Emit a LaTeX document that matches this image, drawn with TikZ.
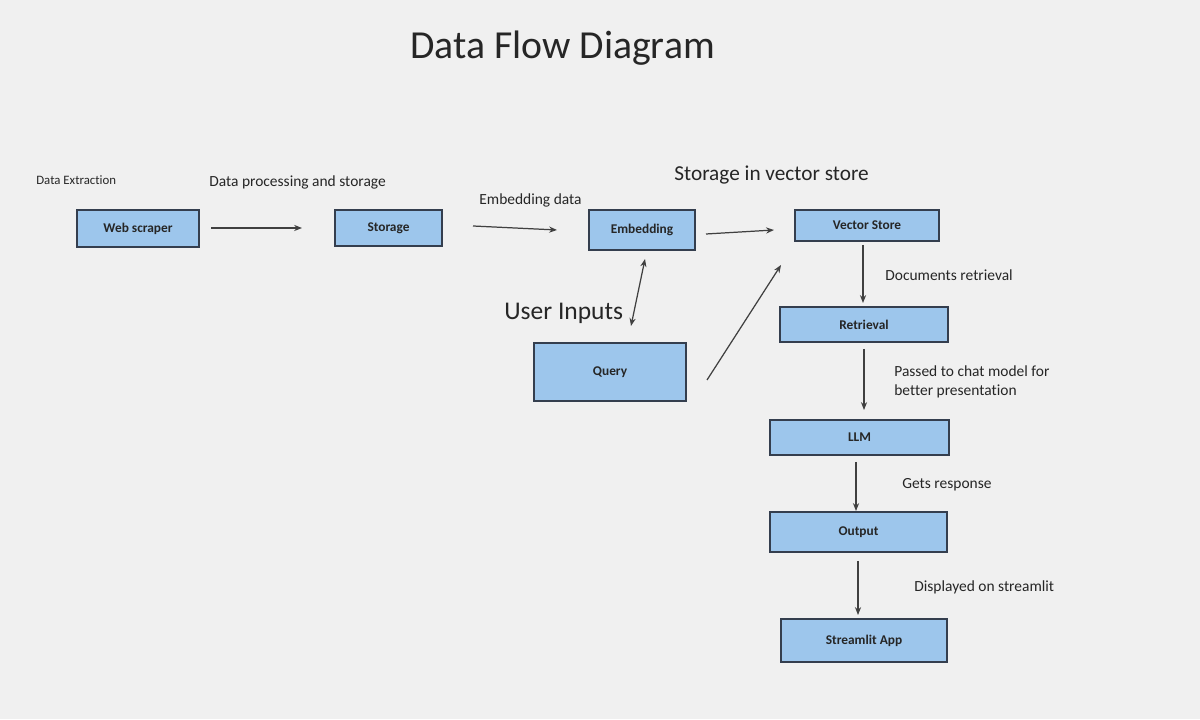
\documentclass[tikz,border=0pt]{standalone}
\usepackage{fontspec}
\setmainfont{Carlito}[Ligatures={NoCommon}]
\usetikzlibrary{arrows.meta}

\definecolor{bgcol}{RGB}{240,240,240}
\definecolor{boxfill}{RGB}{157,198,236}
\definecolor{boxline}{RGB}{52,62,78}
\definecolor{arrowcol}{RGB}{64,64,64}

\tikzset{
  stagebox/.style={shape=rectangle, draw=boxline, fill=boxfill, line width=0.65pt, inner sep=0pt,
    font=\fontsize{7.6}{9}\selectfont\bfseries, text=black!85},
  flow/.style={-{Stealth[length=4.5pt,width=3.5pt]}, draw=arrowcol, line width=0.7pt},
  note/.style={anchor=west, inner sep=0pt, text=black!85, font=\fontsize{8.8}{10.5}\selectfont}
}

\begin{document}
\begin{tikzpicture}

\fill[bgcol] (0,0) rectangle (24,14.38);
\useasboundingbox (0,0) rectangle (24,14.38);

%title
\node [note, font=\fontsize{22.6}{26}\selectfont] at (8.20,13.42) (title) {Data Flow Diagram};

%draw top row of boxes
\node [stagebox, minimum width=2.44cm, minimum height=0.74cm] at (2.76,9.81) (web) {Web scraper};
\node [stagebox, minimum width=2.14cm, minimum height=0.72cm] at (7.77,9.82) (storage) {Storage};
\node [stagebox, minimum width=2.12cm, minimum height=0.80cm] at (12.84,9.78) (embed) {Embedding};
\node [stagebox, minimum width=2.88cm, minimum height=0.62cm] at (17.34,9.87) (vstore) {Vector Store};

%user query box
\node [stagebox, minimum width=3.04cm, minimum height=1.16cm] at (12.20,6.94) (query) {Query};

%draw column of boxes down to the app
\node [stagebox, minimum width=3.36cm, minimum height=0.70cm] at (17.28,7.89) (retrieval) {Retrieval};
\node [stagebox, minimum width=3.58cm, minimum height=0.70cm] at (17.19,5.63) (llm) {LLM};
\node [stagebox, minimum width=3.54cm, minimum height=0.80cm] at (17.17,3.74) (output) {Output};
\node [stagebox, minimum width=3.32cm, minimum height=0.86cm] at (17.28,1.57) (app) {Streamlit App};

%labels
\node [note, font=\fontsize{7.3}{8.5}\selectfont] at (0.72,10.78) (lextract) {Data Extraction};
\node [note] at (4.18,10.74) (lprocess) {Data processing and storage};
\node [note] at (9.58,10.38) (lembed) {Embedding data};
\node [note, font=\fontsize{12.1}{14}\selectfont] at (13.48,10.88) (lvstore) {Storage in vector store};
\node [note, font=\fontsize{14.5}{17}\selectfont] at (10.08,8.12) (luser) {User Inputs};
\node [note] at (17.70,8.88) (lretrieve) {Documents retrieval};
\node [note, align=left] at (17.88,6.74) (lchat) {Passed to chat model for\\better presentation};
\node [note] at (18.04,4.68) (lresponse) {Gets response};
\node [note] at (18.28,2.64) (lshow) {Displayed on streamlit};

%arrow end points (arrows stop short of the boxes)
\coordinate (web_out) at (4.22,9.82);
\coordinate (storage_in) at (6.04,9.82);
\coordinate (storage_out) at (9.46,9.86);
\coordinate (embed_in) at (11.14,9.78);
\coordinate (embed_out) at (14.12,9.70);
\coordinate (vstore_in) at (15.48,9.78);
\coordinate (embed_low) at (12.90,9.20);
\coordinate (query_top) at (12.62,7.86);
\coordinate (query_out) at (14.14,6.78);
\coordinate (vstore_low) at (15.62,9.08);
\coordinate (vstore_out) at (17.26,9.48);
\coordinate (retrieval_in) at (17.26,8.32);
\coordinate (retrieval_out) at (17.28,7.40);
\coordinate (llm_in) at (17.28,6.18);
\coordinate (llm_out) at (17.12,5.14);
\coordinate (output_in) at (17.12,4.16);
\coordinate (output_out) at (17.16,3.16);
\coordinate (app_in) at (17.16,2.08);

%arrows
\draw [flow] (web_out) -- (storage_in);
\draw [flow] (storage_out) -- (embed_in);
\draw [flow] (embed_out) -- (vstore_in);
\draw [flow, {Stealth[length=4.5pt,width=3.5pt]}-{Stealth[length=4.5pt,width=3.5pt]}] (embed_low) -- (query_top);
\draw [flow] (query_out) -- (vstore_low);
\draw [flow] (vstore_out) -- (retrieval_in);
\draw [flow] (retrieval_out) -- (llm_in);
\draw [flow] (llm_out) -- (output_in);
\draw [flow] (output_out) -- (app_in);

\end{tikzpicture}
\end{document}
